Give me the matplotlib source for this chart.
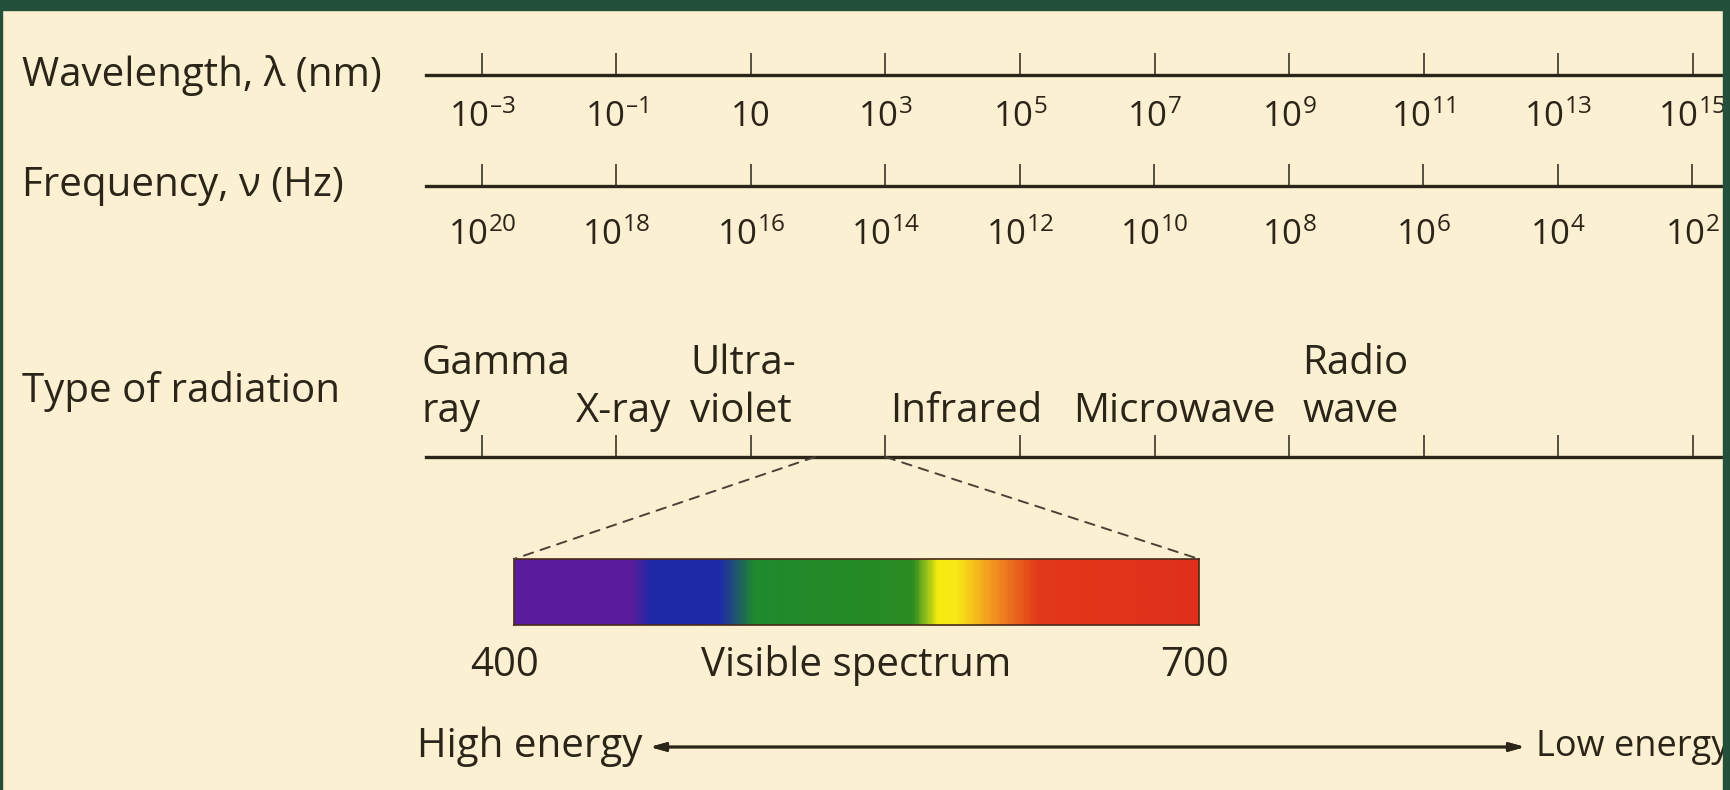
import matplotlib.pyplot as plt
import numpy as np
from matplotlib.patches import Rectangle, ConnectionPatch
from matplotlib.colors import LinearSegmentedColormap
from matplotlib.transforms import blended_transform_factory

plt.rcParams['font.family'] = ['Open Sans', 'DejaVu Sans']
plt.rcParams['mathtext.fontset'] = 'custom'
plt.rcParams['mathtext.rm'] = 'Open Sans'
plt.rcParams['mathtext.it'] = 'Open Sans:italic'

# ---- data ----
wavelength_exp = [-3, -1, 1, 3, 5, 7, 9, 11, 13, 15]
frequency_exp = [20, 18, 16, 14, 12, 10, 8, 6, 4, 2]
radiation_top = ["Gamma", "", "Ultra-", "", "", "Radio"]
radiation_bottom = ["ray", "X-ray", "violet", "Infrared", "Microwave", "wave"]
radiation_exp = [-3.9, -0.9, 0.1, 4.2, 7.3, 9.2]
radiation_ha = ["left", "center", "left", "center", "center", "left"]
visible_exp = [1.95, 3.0]
visible_nm = [400, 700]
spectrum_nm = [400, 451, 460, 490, 505, 575, 586, 594, 612, 630, 700]
spectrum_colors = ["#5a1c9c", "#5a1c9c", "#1e2aa8", "#1e2aa8", "#1f8a2e", "#2a8c22",
                   "#f6ec10", "#f8e818", "#f08a20", "#e2381a", "#e0301a"]

W, H = 1731, 790
def fx(p):
    return p / W
def fy(p):
    return 1 - p / H

ink = "#2b2418"
cream = "#fcf0d2"
green = "#23503b"
fs = 29
fs_tick = 25

fig = plt.figure(figsize=(W / 100, H / 100), dpi=100, facecolor=green)
fig.patches.append(Rectangle((0, 0), 1, 1, transform=fig.transFigure, color=cream, zorder=-5))

left_px, right_px = 426, 1723
e0 = -3 - (482 - left_px) / 67.25
e1 = -3 + (right_px - 482) / 67.25


def scale_axis(y_px, ticks, labels, xlim, pad):
    ax = fig.add_axes([fx(left_px), fy(y_px), fx(right_px) - fx(left_px), 0.03])
    ax.set_xlim(*xlim)
    ax.set_ylim(0, 1)
    ax.patch.set_visible(False)
    for s in ["top", "left", "right"]:
        ax.spines[s].set_visible(False)
    ax.spines["bottom"].set_linewidth(2.4)
    ax.spines["bottom"].set_color(ink)
    ax.set_yticks([])
    ax.set_xticks(ticks)
    ax.set_xticklabels(labels)
    ax.tick_params(axis="x", direction="in", length=16, width=1.1, color=ink,
                   pad=pad, labelsize=fs_tick, labelcolor=ink)
    if not labels:
        ax.tick_params(axis="x", labelbottom=False)
    return ax


def pow_label(e):
    if e == 1:
        return "10"
    return r"$\mathregular{10^{%s}}$" % ("\u2013%d" % -e if e < 0 else "%d" % e)


ax_wl = scale_axis(75, wavelength_exp, [pow_label(e) for e in wavelength_exp], (e0, e1), 18)
ax_fq = scale_axis(186, frequency_exp, [pow_label(e) for e in frequency_exp], (17 - e0, 17 - e1), 23)
ax_rad = scale_axis(457, wavelength_exp, [], (e0, e1), 12)

fig.text(fx(22), fy(75), "Wavelength, \u03bb (nm)", fontsize=fs, color=ink, va="center")
fig.text(fx(22), fy(186), "Frequency, \u03bd (Hz)", fontsize=fs, color=ink, va="center")
fig.text(fx(22), fy(392), "Type of radiation", fontsize=fs, color=ink, va="center")

tr = blended_transform_factory(ax_rad.transData, fig.transFigure)
for top, bot, x, ha in zip(radiation_top, radiation_bottom, radiation_exp, radiation_ha):
    if top:
        ax_rad.text(x, fy(364), top, transform=tr, ha=ha, va="center", fontsize=fs, color=ink)
    ax_rad.text(x, fy(412), bot, transform=tr, ha=ha, va="center", fontsize=fs, color=ink)

# visible spectrum bar
ax_bar = fig.add_axes([fx(514), fy(625), fx(1199) - fx(514), fy(559) - fy(625)])
stops = [(n - visible_nm[0]) / (visible_nm[1] - visible_nm[0]) for n in spectrum_nm]
cmap = LinearSegmentedColormap.from_list("vis", list(zip(stops, spectrum_colors)))
grid = np.linspace(visible_nm[0], visible_nm[1], 600)[None, :]
ax_bar.imshow(grid, cmap=cmap, aspect="auto", extent=(visible_nm[0], visible_nm[1], 0, 1),
              vmin=visible_nm[0], vmax=visible_nm[1])
ax_bar.set_xlim(*visible_nm)
ax_bar.set_ylim(0, 1)
ax_bar.set_xticks([])
ax_bar.set_yticks([])
for s in ax_bar.spines.values():
    s.set_color("#4a2a1a")
    s.set_linewidth(1.2)

xt = ax_bar.get_xaxis_transform()
ax_bar.text(visible_nm[0] - 4, -0.62, str(visible_nm[0]), transform=xt,
            ha="center", va="center", fontsize=fs, color=ink)
ax_bar.text(visible_nm[1] - 2, -0.62, str(visible_nm[1]), transform=xt,
            ha="center", va="center", fontsize=fs, color=ink)
ax_bar.text(sum(visible_nm) / 2, -0.62, "Visible spectrum", transform=xt,
            ha="center", va="center", fontsize=fs, color=ink)

for xa, xb in zip(visible_exp, visible_nm):
    con = ConnectionPatch(xyA=(xa, 0), coordsA=ax_rad.transData,
                          xyB=(xb, 1), coordsB=ax_bar.transData,
                          linestyle=(0, (5, 4)), color="#4a4236", linewidth=1.4)
    fig.add_artist(con)

# energy arrow
fig.text(fx(417), fy(747), "High energy", fontsize=fs, color=ink, va="center")
fig.text(fx(1536), fy(747), "Low energy", fontsize=26, color=ink, va="center")
fig.add_artist(plt.annotate("", xy=(fx(650), fy(747)), xytext=(fx(1525), fy(747)),
                            xycoords=fig.transFigure, textcoords=fig.transFigure,
                            arrowprops=dict(arrowstyle="<|-|>,head_length=0.9,head_width=0.25",
                                            color=ink, lw=2.0, shrinkA=0, shrinkB=0)))

# dark green frame on top (cuts the page at the right edge)
for x0, y0, w, h in [(0, 0, 2, H), (right_px, 0, W - right_px, H), (0, 0, W, 10)]:
    fig.add_artist(Rectangle((fx(x0), fy(y0 + h)), w / W, h / H, transform=fig.transFigure,
                             color=green, zorder=20))

fig.savefig("out.png", dpi=100, facecolor=green)
